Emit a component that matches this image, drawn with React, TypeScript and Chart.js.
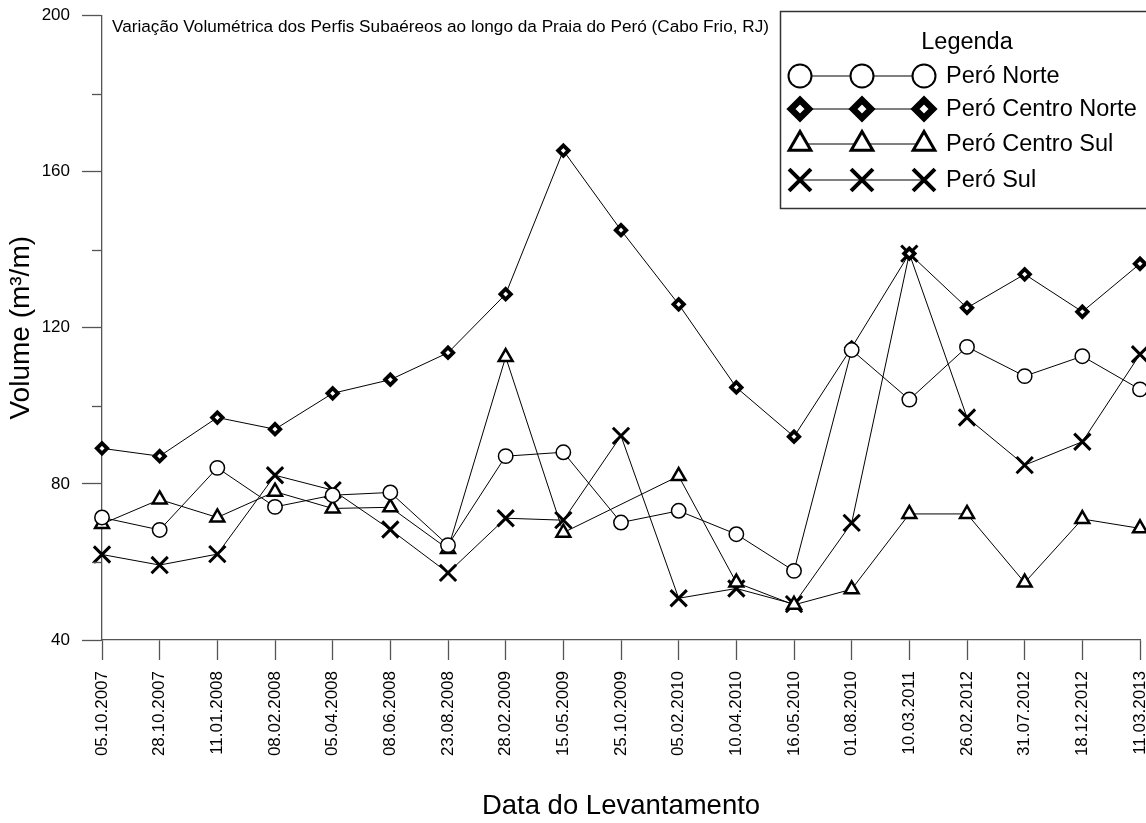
import { useEffect, useRef } from 'react';
import { Chart, registerables } from 'chart.js';
import { drawPoint } from 'chart.js/helpers';

Chart.register(...registerables);

const FONT = '"Liberation Sans", Arial, Helvetica, sans-serif';

const surveyDates = [
  '05.10.2007', '28.10.2007', '11.01.2008', '08.02.2008', '05.04.2008',
  '08.06.2008', '23.08.2008', '28.02.2009', '15.05.2009', '25.10.2009',
  '05.02.2010', '10.04.2010', '16.05.2010', '01.08.2010', '10.03.2011',
  '26.02.2012', '31.07.2012', '18.12.2012', '11.03.2013',
];

const peroNorte = [71.4, 68.2, 84.1, 74.1, 77.1, 77.8, 64.3, 87.1, 88.1, 70.1, 73.1, 67.1, 57.7, 114.3, 101.6, 115.1, 107.6, 112.7, 104.2];
const peroCentroNorte = [89.1, 87.1, 97.0, 94.0, 103.2, 106.7, 113.6, 128.6, 165.4, 145.0, 126.0, 104.7, 92.1, 114.9, 139.0, 125.1, 133.7, 124.1, 136.4];
const peroCentroSul = [69.7, 76.0, 71.4, 78.0, 73.7, 74.0, 63.3, 112.5, 67.5, null, 82.0, 54.7, 49.0, 53.0, 72.3, 72.3, 54.7, 71.0, 68.6];
const peroSul = [61.9, 59.2, 62.0, 82.2, 78.4, 68.3, 57.2, 71.2, 70.7, 92.3, 50.7, 53.2, 49.2, 70.0, 139.0, 97.0, 84.8, 90.8, 113.2];

const seriesNames = ['Peró Norte', 'Peró Centro Norte', 'Peró Centro Sul', 'Peró Sul'];

const yMin = 40;
const yMax = 200;
const yStep = 40;
const yMinorTickValues = [60, 100, 140, 180];

const chartTitle = 'Variação Volumétrica dos Perfis Subaéreos ao longo da Praia do Peró (Cabo Frio, RJ)';
const legendTitle = 'Legenda';
const yAxisTitle = 'Volume (m³/m)';
const xAxisTitle = 'Data do Levantamento';

const AXIS_COLOR = '#555555';
const RIGHT_GAP = 6;

// marker styles (plot / legend)
const markerStyles = [
  { pointStyle: 'circle', radius: 7.2, borderWidth: 1.5, legendRadius: 11.5, legendBorderWidth: 2 },
  { pointStyle: 'rectRot', radius: 5.2, borderWidth: 3.8, legendRadius: 9, legendBorderWidth: 6.5 },
  { pointStyle: 'triangle', radius: 8, borderWidth: 2.5, legendRadius: 12.5, legendBorderWidth: 3 },
  { pointStyle: 'crossRot', radius: 11.5, borderWidth: 3, legendRadius: 15.5, legendBorderWidth: 4 },
];

// stretch the plot area to the right edge the reference uses
const rightEdgePlugin = {
  id: 'rightEdge',
  afterLayout(chart: any) {
    const target = chart.width - RIGHT_GAP;
    const area = chart.chartArea;
    const d = target - area.right;
    if (Math.abs(d) < 0.01) return;
    area.right = target;
    area.width += d;
    const x = chart.scales.x;
    x.right = target;
    x.width += d;
    x.configure();
  },
};

const minorTicksPlugin = {
  id: 'minorTicks',
  afterDraw(chart: any) {
    const y = chart.scales.y;
    const ctx = chart.ctx;
    ctx.save();
    ctx.strokeStyle = AXIS_COLOR;
    ctx.lineWidth = 1.3;
    for (const v of yMinorTickValues) {
      const py = Math.round(y.getPixelForValue(v)) + 0.5;
      ctx.beginPath();
      ctx.moveTo(y.right - 10, py);
      ctx.lineTo(y.right, py);
      ctx.stroke();
    }
    ctx.restore();
  },
};

const titleTextPlugin = {
  id: 'titleText',
  afterDraw(chart: any) {
    const { ctx, chartArea } = chart;
    ctx.save();
    ctx.fillStyle = '#000';
    ctx.font = `17.2px ${FONT}`;
    ctx.textAlign = 'left';
    ctx.textBaseline = 'alphabetic';
    ctx.fillText(chartTitle, chartArea.left + 10, chartArea.top + 16.5);
    ctx.restore();
  },
};

const boxLegendPlugin = {
  id: 'boxLegend',
  afterDraw(chart: any) {
    const { ctx } = chart;
    const left = 780.5;
    const top = 11.5;
    const bottom = 208.5;
    ctx.save();
    ctx.fillStyle = '#fff';
    ctx.fillRect(left, top, 500, bottom - top);
    ctx.strokeStyle = '#333';
    ctx.lineWidth = 1.5;
    ctx.strokeRect(left, top, 500, bottom - top);

    ctx.fillStyle = '#000';
    ctx.font = `23.5px ${FONT}`;
    ctx.textAlign = 'center';
    ctx.textBaseline = 'middle';
    ctx.fillText(legendTitle, 967, 43);

    const rowsY = [76, 109, 144, 180];
    const markersX = [800, 862, 924];
    seriesNames.forEach((name, i) => {
      const st = markerStyles[i];
      const ry = rowsY[i];
      ctx.strokeStyle = '#000';
      ctx.lineWidth = 1;
      ctx.beginPath();
      ctx.moveTo(markersX[0], ry);
      ctx.lineTo(markersX[2], ry);
      ctx.stroke();
      for (const mx of markersX) {
        ctx.fillStyle = '#fff';
        ctx.strokeStyle = '#000';
        ctx.lineWidth = st.legendBorderWidth;
        drawPoint(ctx, { pointStyle: st.pointStyle, radius: st.legendRadius, rotation: 0, borderWidth: st.legendBorderWidth } as any, mx, ry);
      }
      ctx.fillStyle = '#000';
      ctx.font = `23.5px ${FONT}`;
      ctx.textAlign = 'left';
      ctx.textBaseline = 'middle';
      ctx.fillText(name, 946, ry + 1);
    });
    ctx.restore();
  },
};

export default function App() {
  const canvasRef = useRef<HTMLCanvasElement | null>(null);

  useEffect(() => {
    if (!canvasRef.current) return;
    const seriesData = [peroNorte, peroCentroNorte, peroCentroSul, peroSul];
    const datasets = seriesData.map((data, i) => ({
      label: seriesNames[i],
      data,
      borderColor: '#000',
      borderWidth: 1,
      backgroundColor: '#fff',
      pointStyle: markerStyles[i].pointStyle,
      pointRadius: markerStyles[i].radius,
      pointHoverRadius: markerStyles[i].radius,
      pointBorderWidth: markerStyles[i].borderWidth,
      pointBorderColor: '#000',
      pointBackgroundColor: '#fff',
      tension: 0,
      spanGaps: true,
      clip: false,
    }));

    const chart = new Chart(canvasRef.current, {
      type: 'line',
      data: { labels: surveyDates, datasets: datasets as any },
      options: {
        animation: false,
        responsive: false,
        devicePixelRatio: 1,
        layout: { padding: { top: 15.5, right: RIGHT_GAP, left: 0, bottom: 0 } },
        plugins: {
          legend: { display: false },
          title: { display: false },
          tooltip: { enabled: false },
        },
        scales: {
          x: {
            type: 'category',
            offset: false,
            border: { display: true, color: AXIS_COLOR, width: 1.3 },
            grid: {
              display: true,
              drawOnChartArea: false,
              drawTicks: true,
              tickLength: 20,
              tickColor: AXIS_COLOR,
              tickWidth: 1.3,
              offset: false,
            },
            ticks: {
              autoSkip: false,
              maxRotation: 90,
              minRotation: 90,
              padding: 11,
              color: '#000',
              font: { family: FONT, size: 17 },
            },
            title: {
              display: true,
              text: xAxisTitle,
              color: '#000',
              font: { family: FONT, size: 27.5 },
              padding: { top: 0, bottom: 0 },
            },
            afterFit(scale: any) {
              scale.height = 183;
              scale.paddingLeft = 0;
              scale.paddingRight = 0;
            },
          },
          y: {
            type: 'linear',
            min: yMin,
            max: yMax,
            border: { display: true, color: AXIS_COLOR, width: 1.3 },
            grid: {
              display: true,
              drawOnChartArea: false,
              drawTicks: true,
              tickLength: 20,
              tickColor: AXIS_COLOR,
              tickWidth: 1.3,
            },
            ticks: {
              stepSize: yStep,
              padding: 12,
              color: '#000',
              font: { family: FONT, size: 17 },
            },
            title: {
              display: true,
              text: yAxisTitle,
              color: '#000',
              font: { family: FONT, size: 28 },
              padding: { top: 4, bottom: 0 },
            },
            afterFit(scale: any) {
              scale.width = 102;
              scale.paddingTop = 0;
              scale.paddingBottom = 0;
            },
          },
        },
      },
      plugins: [rightEdgePlugin, minorTicksPlugin, titleTextPlugin, boxLegendPlugin],
    });
    return () => chart.destroy();
  }, []);

  return (
    <div style={{ position: 'fixed', left: 0, top: 0, width: 1146, height: 823, background: '#fff' }}>
      <canvas ref={canvasRef} width={1146} height={823} style={{ display: 'block', width: 1146, height: 823 }} />
    </div>
  );
}
